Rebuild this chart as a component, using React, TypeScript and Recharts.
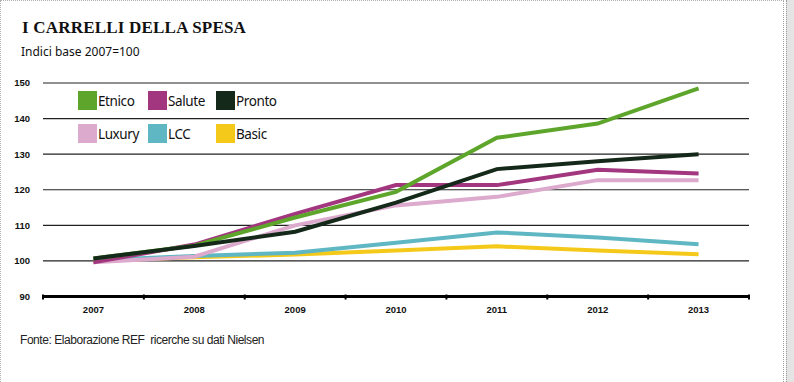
import React from "react";
import {
  LineChart,
  Line,
  XAxis,
  YAxis,
  CartesianGrid,
} from "recharts";

const years = ["2007", "2008", "2009", "2010", "2011", "2012", "2013"];
const etnico = [100.7, 104.3, 112.2, 119.4, 134.6, 138.6, 148.5];
const salute = [99.6, 104.6, 113.2, 121.3, 121.3, 125.6, 124.6];
const pronto = [100.7, 104.2, 108.2, 116.4, 125.8, 128, 130];
const luxury = [99.6, 101.2, 110, 115.6, 118, 122.7, 122.7];
const lcc = [100.2, 101.4, 102.3, 105.1, 108, 106.6, 104.7];
const basic = [100, 101, 101.8, 102.9, 104.1, 102.9, 101.9];
const yTicks = [90, 100, 110, 120, 130, 140, 150];

const SERIES = [
  { key: "Etnico", values: etnico, color: "#5ea62b" },
  { key: "Salute", values: salute, color: "#a2367f" },
  { key: "Pronto", values: pronto, color: "#15291a" },
  { key: "Luxury", values: luxury, color: "#dcaacc" },
  { key: "LCC", values: lcc, color: "#5fb7c3" },
  { key: "Basic", values: basic, color: "#f4c91a" },
];

// drawing order: light lines first, dark ones on top
const DRAW_ORDER = ["Basic", "LCC", "Luxury", "Salute", "Etnico", "Pronto"];

const data = years.map((year, i) => {
  const row: Record<string, any> = { year };
  SERIES.forEach((s) => (row[s.key] = s.values[i]));
  return row;
});

const PLOT_LEFT = 43;
const PLOT_RIGHT = 749;
const HALF_BAND = (PLOT_RIGHT - PLOT_LEFT) / years.length / 2;

const XTick = ({ x, y, payload, index }: any) => {
  const last = index === years.length - 1;
  return (
    <g>
      <line x1={x - HALF_BAND} x2={x - HALF_BAND} y1={y - 10} y2={y - 5} stroke="#000" strokeWidth={2} />
      {last && (
        <line x1={x + HALF_BAND} x2={x + HALF_BAND} y1={y - 10} y2={y - 5} stroke="#000" strokeWidth={2} />
      )}
      <text
        x={x}
        y={y + 8}
        textAnchor="middle"
        fontSize={9.5}
        fontWeight="bold"
        fontFamily="'Liberation Sans', sans-serif"
        fill="#111"
      >
        {payload.value}
      </text>
    </g>
  );
};

const LegendBox = () => {
  const cols = [0, 70, 138];
  return (
    <div style={{ position: "absolute", left: 78, top: 91, width: 220, height: 60 }}>
      {SERIES.map((s, i) => (
        <div
          key={s.key}
          style={{
            position: "absolute",
            left: cols[i % 3],
            top: Math.floor(i / 3) * 33,
            display: "flex",
            alignItems: "center",
            height: 19,
          }}
        >
          <div style={{ width: 19, height: 19, background: s.color }} />
          <span
            style={{
              marginLeft: 1,
              fontFamily: "'Noto Sans', sans-serif",
              fontSize: 13.5,
              letterSpacing: -0.4,
              color: "#111",
            }}
          >
            {s.key}
          </span>
        </div>
      ))}
    </div>
  );
};

export default function App() {
  return (
    <div
      style={{
        position: "fixed",
        left: 0,
        top: 0,
        width: 794,
        height: 382,
        background: "#fff",
        overflow: "hidden",
      }}
    >
      <div style={{ position: "absolute", left: 0, top: 0, width: 784, height: 382, borderLeft: "1px dotted #b0b0b0", borderTop: "1px dotted #b0b0b0", borderRight: "1px dotted #a0a0a0", boxSizing: "border-box" }} />
      <div style={{ position: "absolute", left: 786, top: 0, width: 8, height: 382, background: "#e4e4e4", borderLeft: "1px dotted #999", boxSizing: "border-box" }} />

      <div
        style={{
          position: "absolute",
          left: 22,
          top: 18,
          fontFamily: "'Liberation Serif', serif",
          fontWeight: "bold",
          fontSize: 17,
          letterSpacing: 0.2,
          color: "#111",
        }}
      >
        I CARRELLI DELLA SPESA
      </div>
      <div
        style={{
          position: "absolute",
          left: 21,
          top: 43,
          fontFamily: "'Noto Sans', sans-serif",
          fontSize: 12,
          letterSpacing: 0,
          color: "#111",
        }}
      >
        Indici base 2007=100
      </div>

      <div style={{ position: "absolute", left: 0, top: 0 }}>
        <LineChart
          width={794}
          height={382}
          data={data}
          margin={{ top: 83, right: 794 - PLOT_RIGHT, bottom: 55.5, left: 0 }}
        >
          <CartesianGrid horizontal vertical={false} stroke="#222" strokeWidth={1.1} />
          <XAxis
            dataKey="year"
            padding={{ left: HALF_BAND, right: HALF_BAND }}
            axisLine={{ stroke: "#000", strokeWidth: 3 }}
            tickLine={false}
            tick={<XTick />}
            height={30}
            interval={0}
          />
          <YAxis
            domain={[90, 150]}
            ticks={yTicks}
            width={PLOT_LEFT}
            axisLine={false}
            tickLine={false}
            tickSize={0}
            tickMargin={13}
            tick={{
              fontSize: 9.5,
              fontWeight: "bold",
              fill: "#111",
              fontFamily: "'Liberation Sans', sans-serif",
            }}
          />
          {DRAW_ORDER.map((key) => {
            const s = SERIES.find((x) => x.key === key)!;
            return (
              <Line
                key={key}
                dataKey={key}
                stroke={s.color}
                strokeWidth={4}
                dot={false}
                isAnimationActive={false}
              />
            );
          })}
        </LineChart>
      </div>

      <LegendBox />

      <div
        style={{
          position: "absolute",
          left: 20,
          top: 333,
          fontFamily: "'Liberation Sans', sans-serif",
          fontSize: 12,
          letterSpacing: -0.45,
          color: "#222",
        }}
      >
        Fonte: Elaborazione REF &nbsp;ricerche su dati Nielsen
      </div>
    </div>
  );
}
